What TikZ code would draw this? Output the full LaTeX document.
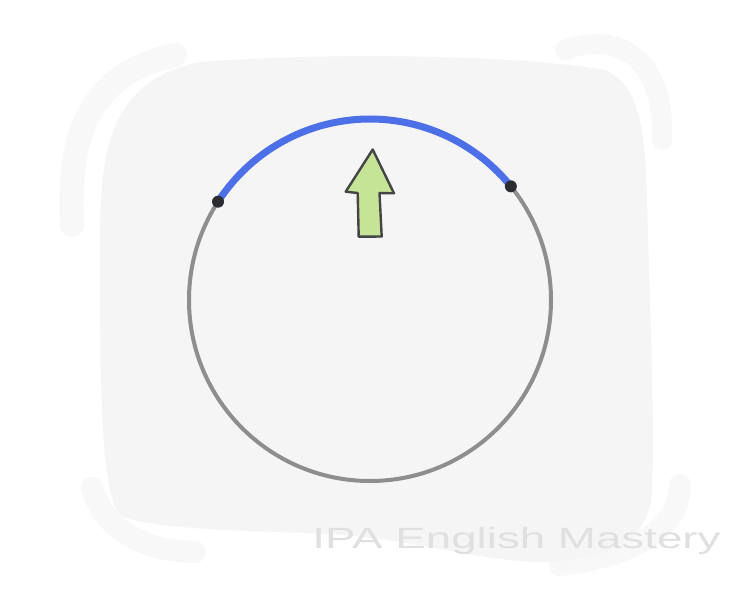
\documentclass[tikz,border=0pt]{standalone}
\usepackage{fontspec}
\setmainfont{Liberation Sans}
\usetikzlibrary{calc}
\definecolor{bgpanel}{HTML}{F5F5F5}
\definecolor{bgstroke}{HTML}{F8F8F8}
\definecolor{ringgray}{HTML}{8E8E8E}
\definecolor{arcblue}{HTML}{4D6FE8}
\definecolor{dotdark}{HTML}{2B2D33}
\definecolor{arrowgreen}{HTML}{C5E496}
\definecolor{arrowedge}{HTML}{454545}
\definecolor{wmgray}{HTML}{E0E0E0}
\tikzset{
  ring/.style={draw=ringgray, line width=4pt},
  bluearc/.style={draw=arcblue, line width=7pt},
  enddot/.style={circle, fill=dotdark, inner sep=0pt, minimum size=12pt},
  uparrow/.style={fill=arrowgreen, draw=arrowedge, line width=2.4pt, line join=round},
  brush/.style={draw=bgstroke, line cap=round, line join=round},
  watermark/.style={text=wmgray, inner sep=0pt, anchor=base, font=\fontsize{29.3}{30}\selectfont}
}
\begin{document}
\begin{tikzpicture}[x=1pt, y=-1pt]
\useasboundingbox (0,0) rectangle (750,600);
\fill[white] (0,0) rectangle (750,600);
% outer brush strokes
\draw[brush, line width=24pt] (72,225) .. controls (68,140) and (85,75) .. (175,55);
\draw[brush, line width=20pt] (565,50) .. controls (620,30) and (665,60) .. (662,140);
\draw[brush, line width=22pt] (92,488) .. controls (105,530) and (140,550) .. (195,552);
\draw[brush, line width=22pt] (680,485) .. controls (680,525) and (640,555) .. (560,565);
% main panel
\fill[bgpanel] (100,240) .. controls (100,150) and (110,80) .. (200,62)
  .. controls (330,52) and (520,55) .. (605,70)
  .. controls (640,85) and (645,130) .. (647,200)
  .. controls (650,320) and (655,420) .. (652,490)
  .. controls (650,540) and (610,560) .. (540,562)
  .. controls (470,560) and (420,540) .. (330,534)
  .. controls (240,530) and (150,530) .. (120,515)
  .. controls (100,490) and (100,380) .. (100,240) -- cycle;
% circle and arc
\coordinate (c) at (370,300);
\draw[ring] (c) circle (181);
\coordinate (L) at ($(c)+(-147.1:181)$);
\coordinate (R) at ($(c)+(-38.9:181)$);
\draw[bluearc] (L) arc[start angle=-147.1, end angle=-38.9, radius=181];
\node[enddot] (dl) at (L) {};
\node[enddot] (dr) at (R) {};
% green arrow
\filldraw[uparrow] (372.7,149.5) -- (394,193.3) -- (379.5,193) -- (381.7,236.5)
  -- (358.7,236.7) -- (357.7,193) -- (345.7,191.7) -- cycle;
% watermark
\node[watermark] (wm) at (516.5,548) {\scalebox{1.56}[1]{IPA English Mastery}};
\end{tikzpicture}
\end{document}
